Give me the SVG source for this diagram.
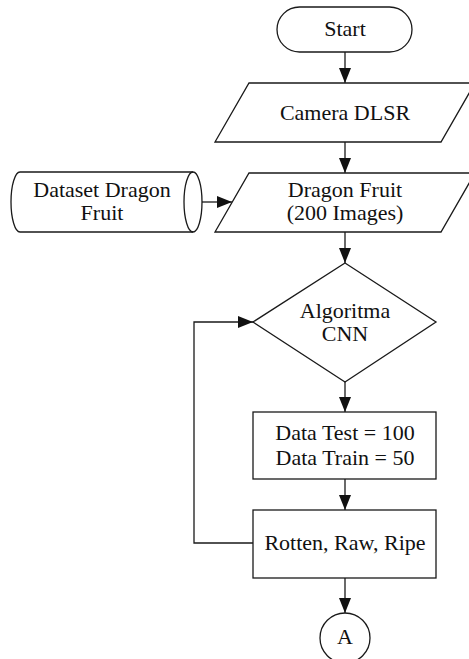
<svg xmlns="http://www.w3.org/2000/svg" width="469" height="659" viewBox="0 0 469 659">
<style>
.s{fill:#fff;stroke:#1a1a1a;stroke-width:1.3}
.c{fill:none;stroke:#1a1a1a;stroke-width:1.3}
text{font-family:"Liberation Serif","Times New Roman",serif;font-size:22px;fill:#111;text-anchor:middle}
</style>
<defs>
<marker id="ah" markerUnits="userSpaceOnUse" markerWidth="15" markerHeight="13" refX="15" refY="6.5" orient="auto">
<path d="M0,0.5 L15,6.5 L0,12.5 Z" fill="#111"/>
</marker>
</defs>
<rect width="469" height="659" fill="#fff"/>
<g id="connectors">
<line class="c" x1="345" y1="52" x2="345" y2="83" marker-end="url(#ah)"/>
<line class="c" x1="345" y1="142" x2="345" y2="173" marker-end="url(#ah)"/>
<line class="c" x1="202" y1="202" x2="232" y2="202" marker-end="url(#ah)"/>
<line class="c" x1="345" y1="232" x2="345" y2="263" marker-end="url(#ah)"/>
<line class="c" x1="345" y1="382" x2="345" y2="412" marker-end="url(#ah)"/>
<line class="c" x1="345" y1="479" x2="345" y2="510" marker-end="url(#ah)"/>
<line class="c" x1="345" y1="578" x2="345" y2="613" marker-end="url(#ah)"/>
<polyline class="c" points="253,543 194,543 194,322 253,322" marker-end="url(#ah)"/>
</g>
<g id="start">
<rect class="s" x="277" y="7" width="135" height="45" rx="22.5" ry="22.5"/>
<text x="345" y="36">Start</text>
</g>
<g id="camera">
<polygon class="s" points="249,83 475,83 441,142 215,142"/>
<text x="345" y="120">Camera DLSR</text>
</g>
<g id="dataset">
<path class="s" d="M20,172 L193,172 A9,30 0 0 1 193,232 L20,232 A9,30 0 0 1 20,172 Z"/>
<path class="c" d="M193,172 A9,30 0 0 0 193,232"/>
<text x="102" y="197">Dataset Dragon</text>
<text x="102" y="220">Fruit</text>
</g>
<g id="dragonfruit">
<polygon class="s" points="249,173 475,173 441,232 215,232"/>
<text x="345" y="197">Dragon Fruit</text>
<text x="345" y="220">(200 Images)</text>
</g>
<g id="cnn">
<polygon class="s" points="345,263 436,322 345,382 253,322"/>
<text x="345" y="318">Algoritma</text>
<text x="345" y="341">CNN</text>
</g>
<g id="data">
<rect class="s" x="253" y="412" width="183" height="67"/>
<text x="345" y="440">Data Test = 100</text>
<text x="345" y="465">Data Train = 50</text>
</g>
<g id="result">
<rect class="s" x="253" y="510" width="183" height="68"/>
<text x="345" y="550">Rotten, Raw, Ripe</text>
</g>
<g id="connectorA">
<circle class="s" cx="345" cy="638" r="25"/>
<text x="345" y="644">A</text>
</g>
</svg>
